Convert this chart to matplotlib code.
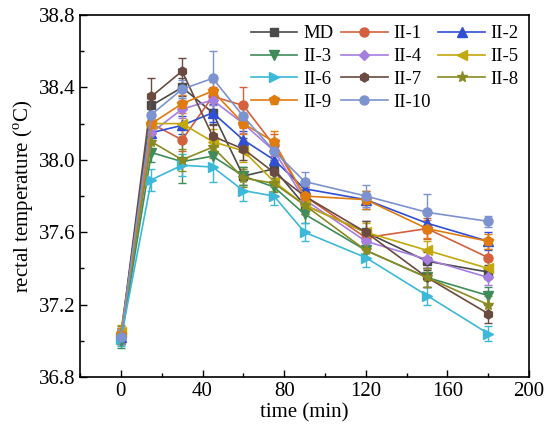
import matplotlib
matplotlib.use("Agg")
import matplotlib.pyplot as plt
from matplotlib.ticker import MultipleLocator

plt.rcParams['font.family'] = ['Liberation Serif', 'DejaVu Serif']
plt.rcParams['mathtext.fontset'] = 'custom'
plt.rcParams['mathtext.rm'] = 'Liberation Serif'

time = [0, 15, 30, 45, 60, 75, 90, 120, 150, 180]

labels = ['MD', 'II-1', 'II-2', 'II-3', 'II-4', 'II-5', 'II-6', 'II-7', 'II-8', 'II-9', 'II-10']

md    = [37.02, 38.30, 38.40, 38.26, 37.91, 37.95, 37.75, 37.60, 37.44, 37.38]
ii_1  = [37.03, 38.20, 38.11, 38.35, 38.30, 38.08, 37.80, 37.57, 37.62, 37.46]
ii_2  = [37.02, 38.15, 38.19, 38.26, 38.11, 38.00, 37.84, 37.78, 37.65, 37.55]
ii_3  = [37.00, 38.04, 37.99, 38.02, 37.91, 37.85, 37.70, 37.50, 37.35, 37.25]
ii_4  = [37.03, 38.15, 38.28, 38.33, 38.20, 38.05, 37.78, 37.55, 37.45, 37.35]
ii_5  = [37.05, 38.20, 38.20, 38.10, 38.05, 37.88, 37.75, 37.60, 37.50, 37.40]
ii_6  = [37.01, 37.89, 37.97, 37.96, 37.83, 37.80, 37.60, 37.46, 37.25, 37.04]
ii_7  = [37.02, 38.35, 38.49, 38.13, 38.06, 37.93, 37.80, 37.60, 37.35, 37.15]
ii_8  = [37.04, 38.10, 38.00, 38.07, 37.90, 37.87, 37.75, 37.50, 37.35, 37.20]
ii_9  = [37.03, 38.20, 38.31, 38.38, 38.20, 38.10, 37.80, 37.78, 37.62, 37.55]
ii_10 = [37.02, 38.25, 38.39, 38.45, 38.24, 38.05, 37.88, 37.80, 37.71, 37.66]

err_md    = [0.04, 0.05, 0.05, 0.06, 0.05, 0.05, 0.05, 0.06, 0.05, 0.04]
err_ii_1  = [0.04, 0.05, 0.06, 0.05, 0.10, 0.06, 0.05, 0.05, 0.06, 0.05]
err_ii_2  = [0.04, 0.04, 0.05, 0.05, 0.05, 0.05, 0.05, 0.05, 0.05, 0.05]
err_ii_3  = [0.04, 0.05, 0.12, 0.06, 0.05, 0.05, 0.05, 0.05, 0.05, 0.05]
err_ii_4  = [0.04, 0.05, 0.05, 0.05, 0.05, 0.05, 0.05, 0.05, 0.05, 0.04]
err_ii_5  = [0.04, 0.06, 0.08, 0.07, 0.06, 0.05, 0.05, 0.05, 0.05, 0.05]
err_ii_6  = [0.04, 0.06, 0.06, 0.08, 0.06, 0.05, 0.05, 0.05, 0.05, 0.04]
err_ii_7  = [0.04, 0.10, 0.07, 0.06, 0.06, 0.05, 0.05, 0.06, 0.05, 0.05]
err_ii_8  = [0.04, 0.05, 0.06, 0.06, 0.05, 0.05, 0.05, 0.05, 0.05, 0.05]
err_ii_9  = [0.04, 0.05, 0.05, 0.05, 0.06, 0.06, 0.05, 0.05, 0.05, 0.04]
err_ii_10 = [0.04, 0.05, 0.05, 0.15, 0.06, 0.05, 0.05, 0.06, 0.10, 0.03]

series = [md, ii_1, ii_2, ii_3, ii_4, ii_5, ii_6, ii_7, ii_8, ii_9, ii_10]
errors = [err_md, err_ii_1, err_ii_2, err_ii_3, err_ii_4, err_ii_5, err_ii_6,
          err_ii_7, err_ii_8, err_ii_9, err_ii_10]

colors = ['#4a4a4a', '#d4603c', '#2f4fd6', '#3f8c5a', '#a57ee0', '#c2a80a',
          '#3cb8d8', '#6b4a40', '#8a8a22', '#e07b10', '#7c93d0']
markers = ['s', 'o', '^', 'v', 'D', '<', '>', 'h', '*', 'p', 'o']
msizes = [6, 6.5, 7, 7, 5.5, 7, 7, 6.5, 8, 7, 6.5]

fig = plt.figure(figsize=(5.5, 4.4), dpi=100)
ax = fig.add_axes([0.1455, 0.143, 0.8165, 0.823])

handles = []
for y, e, c, m, ms, lab in zip(series, errors, colors, markers, msizes, labels):
    cont = ax.errorbar(time, y, yerr=e, color=c, marker=m, markersize=ms, lw=1.2,
                       elinewidth=1.0, capsize=3, capthick=1.0, label=lab)
    handles.append(cont[0])

ax.set_xlim(-20, 200)
ax.set_ylim(36.8, 38.8)
ax.xaxis.set_major_locator(MultipleLocator(40))
ax.xaxis.set_minor_locator(MultipleLocator(20))
ax.yaxis.set_major_locator(MultipleLocator(0.4))
ax.yaxis.set_minor_locator(MultipleLocator(0.2))
ax.tick_params(which='both', direction='in', top=False, right=False, labelsize=15)
ax.tick_params(which='major', length=5, width=1)
ax.tick_params(which='minor', length=3, width=1)
for sp in ax.spines.values():
    sp.set_linewidth(1.2)

ax.set_xlabel('time (min)', fontsize=15, labelpad=2)
ax.set_ylabel(r'rectal temperature ($^{\rm o}$C)', fontsize=15, labelpad=2)

# row-wise legend order for 3 columns
order = [0, 3, 6, 9, 1, 4, 7, 10, 2, 5, 8]
ax.legend([handles[i] for i in order], [labels[i] for i in order],
          ncol=3, loc='upper right', frameon=False, fontsize=13.5,
          handlelength=2.5, handletextpad=0.3, columnspacing=0.4,
          labelspacing=0.3, borderaxespad=0.15)

fig.savefig('out.png', dpi=100)
